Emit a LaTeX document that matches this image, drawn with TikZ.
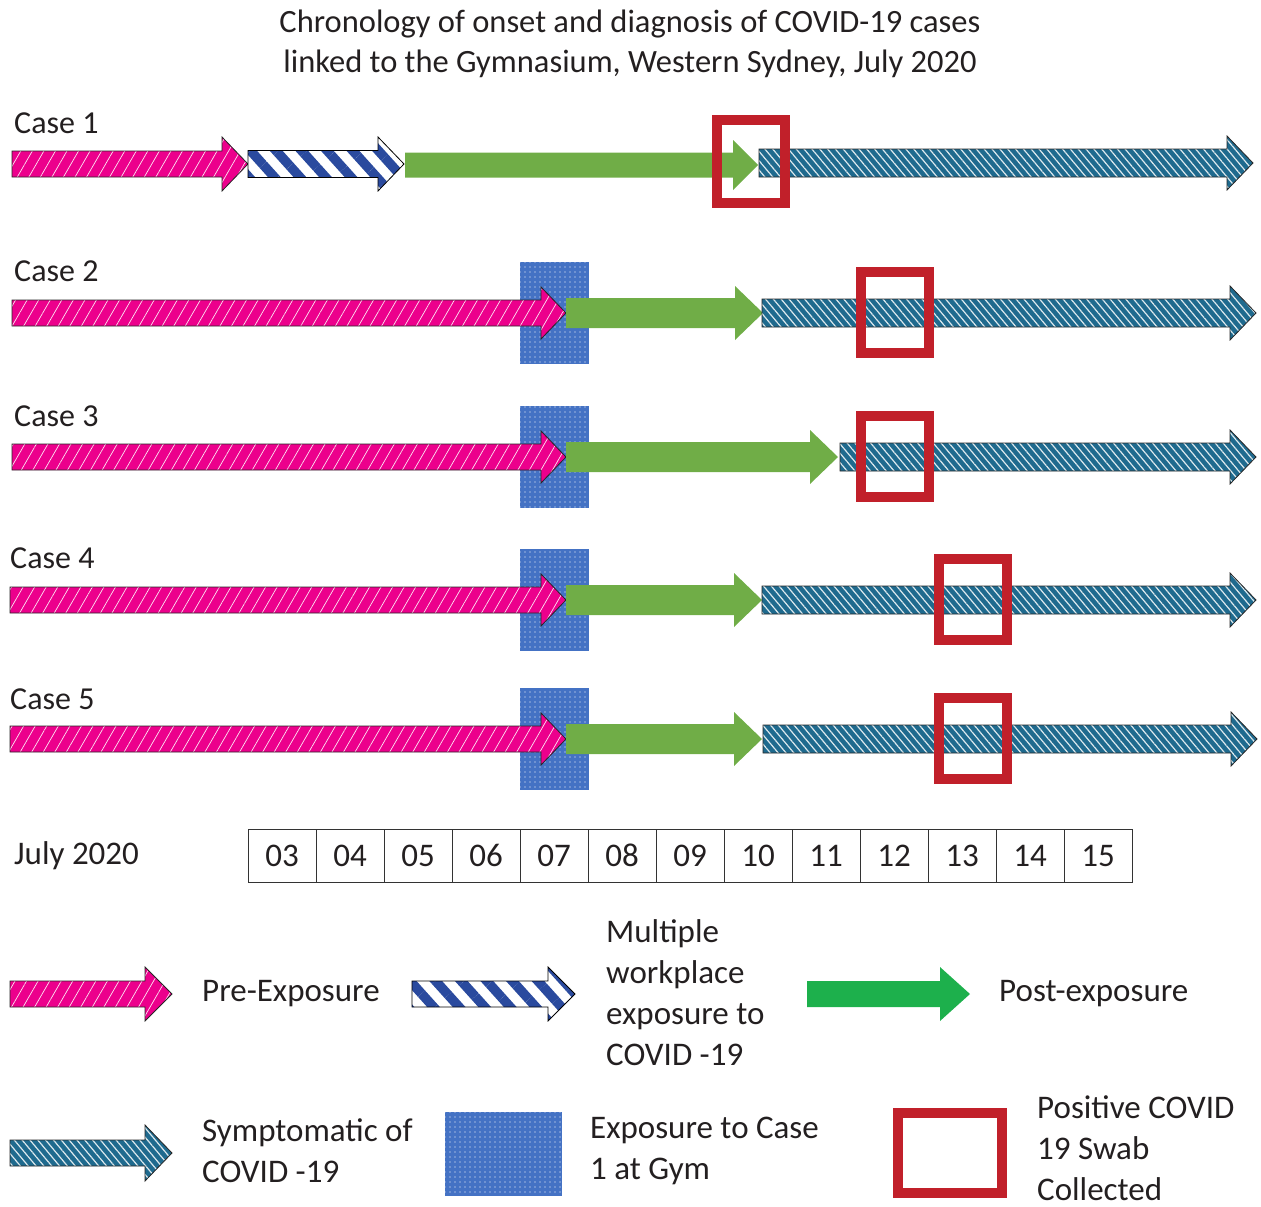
\documentclass[tikz,border=0pt]{standalone}
\usepackage{fontspec}
\setmainfont{Carlito}
\usetikzlibrary{patterns.meta}
\definecolor{pinkc}{RGB}{236,0,140}
\definecolor{tealc}{RGB}{31,106,142}
\definecolor{stripec}{RGB}{42,74,158}
\definecolor{dotc}{RGB}{68,114,196}
\definecolor{greenc}{RGB}{112,173,71}
\definecolor{lgreenc}{RGB}{29,176,76}
\definecolor{redc}{RGB}{193,32,42}
\definecolor{txtc}{RGB}{35,31,32}
\newcommand\harrow[7]{\path[#1] (#2,{#4-#5}) -- ({#3-#6},{#4-#5}) -- ({#3-#6},{#4-#7}) -- (#3,#4) -- ({#3-#6},{#4+#7}) -- ({#3-#6},{#4+#5}) -- (#2,{#4+#5}) -- cycle;}
\tikzset{
  pinkarr/.style={preaction={fill=pinkc}, pattern={Lines[angle=60,distance=10pt,line width=0.7pt]}, pattern color=white!90!pinkc, draw=black!85, line width=0.8pt},
  tealarr/.style={preaction={fill=tealc}, pattern={Lines[angle=-50,distance=6pt,line width=1.2pt]}, pattern color=white!85!tealc, draw=black!85, line width=0.8pt},
  stripearr/.style={preaction={fill=white}, pattern={Lines[angle=-48,distance=19pt,line width=9.5pt]}, pattern color=stripec, draw=black, line width=0.8pt},
  greenarr/.style={fill=greenc},
  lgreenarr/.style={fill=lgreenc},
  dotbox/.style={preaction={fill=dotc}, pattern={Dots[radius=0.7pt,distance=5pt]}, pattern color=white},
  redbox/.style={draw=redc, line width=10pt},
  lbl/.style={font=\fontsize{33}{41}\selectfont, text=txtc, inner sep=0pt, anchor=west, align=left},
  caselbl/.style={lbl, font=\fontsize{32}{40}\selectfont},
  datecell/.style={draw=black!80, line width=0.8pt, minimum width=68pt, minimum height=53pt, inner sep=0pt, font=\fontsize{33}{36}\selectfont, text=txtc},
}
\begin{document}
\begin{tikzpicture}[x=1pt,y=-1pt]
\useasboundingbox (0,0) rectangle (1261,1207);
% title
\node[lbl, anchor=center, align=center, font=\fontsize{32.5}{40}\selectfont] (title) at (630,44) {Chronology of onset and diagnosis of COVID-19 cases\\linked to the Gymnasium, Western Sydney, July 2020};
% case labels
\node[caselbl] (c1) at (14,123) {Case 1};
\node[caselbl] (c2) at (14,271) {Case 2};
\node[caselbl] (c3) at (14,416) {Case 3};
\node[caselbl] (c4) at (10,558) {Case 4};
\node[caselbl] (c5) at (10,699) {Case 5};
% case 1
\harrow{pinkarr}{12}{248}{164}{13}{26}{27}
\harrow{stripearr}{248}{404}{164}{13.5}{26}{27}
\harrow{greenarr}{405}{758}{165}{12.5}{25}{25}
\harrow{tealarr}{759}{1253}{163}{14}{26}{27}
\draw[redbox] (717,120) rectangle (785,203);
% case 2
\fill[dotbox] (520,262) rectangle (589,364);
\harrow{pinkarr}{12}{566}{313}{13}{25}{26}
\harrow{greenarr}{566}{763}{313}{15}{28}{27}
\harrow{tealarr}{762}{1256}{313}{14}{26}{27}
\draw[redbox] (861,272) rectangle (929,353);
% case 3
\fill[dotbox] (520,406) rectangle (589,508);
\harrow{pinkarr}{12}{566}{457}{13}{25}{26}
\harrow{greenarr}{566}{838}{457}{15}{28}{27}
\harrow{tealarr}{840}{1256}{457}{14}{26}{27}
\draw[redbox] (861,416) rectangle (929,497);
% case 4
\fill[dotbox] (520,549) rectangle (589,651);
\harrow{pinkarr}{10}{566}{600}{13}{25}{26}
\harrow{greenarr}{566}{762}{600}{15}{28}{27}
\harrow{tealarr}{762}{1256}{600}{14}{26}{27}
\draw[redbox] (939,559) rectangle (1007,640);
% case 5
\fill[dotbox] (520,688) rectangle (589,790);
\harrow{pinkarr}{10}{566}{739}{13}{25}{26}
\harrow{greenarr}{566}{762}{739}{15}{28}{27}
\harrow{tealarr}{763}{1257}{739}{14}{26}{27}
\draw[redbox] (939,698) rectangle (1007,779);
% dates
\node[lbl] (july) at (14,856) {July 2020};
\foreach \d [count=\i from 0] in {03,04,05,06,07,08,09,10,11,12,13,14,15}
  \node[datecell] (d\d) at ({282+68*\i},855.5) {\d};
% legend row 1
\harrow{pinkarr}{10}{172}{994}{13}{27}{27}
\node[lbl] (lpre) at (202,994) {Pre-Exposure};
\harrow{stripearr}{412}{575}{994}{13}{27}{27}
\node[lbl] (lmult) at (606,993) {Multiple\\workplace\\exposure to\\COVID -19};
\harrow{lgreenarr}{807}{970}{994}{13}{30}{27}
\node[lbl] (lpost) at (999,994) {Post-exposure};
% legend row 2
\harrow{tealarr}{10}{172}{1153}{13}{27}{28}
\node[lbl] (lsym) at (202,1151) {Symptomatic of\\COVID -19};
\fill[dotbox] (445,1112) rectangle (562,1196);
\node[lbl] (lexp) at (590,1151) {Exposure to Case\\1 at Gym};
\draw[redbox] (898,1113) rectangle (1002,1193);
\node[lbl] (lpos) at (1037,1148) {Positive COVID\\19 Swab\\Collected};
\end{tikzpicture}
\end{document}
